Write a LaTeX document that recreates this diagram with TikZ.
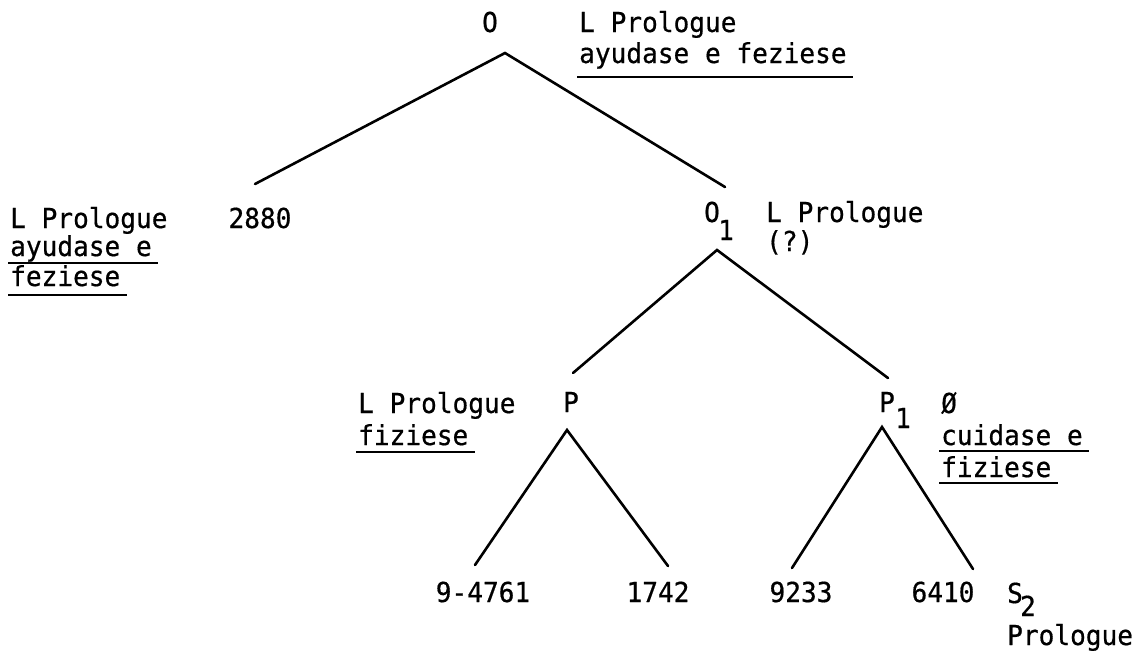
\documentclass[tikz,border=0pt]{standalone}
\usepackage{fontspec}
\newfontfamily\typewriter[FakeStretch=0.95,FakeBold=0.6]{DejaVu Sans Mono}
\usetikzlibrary{calc}
\begin{document}
\begin{tikzpicture}[x=1pt,y=-1pt,
  every node/.style={inner sep=0pt,font=\typewriter\fontsize{27.5}{31}\selectfont},
  lbl/.style={anchor=base west},
  sym/.style={anchor=base},
  branch/.style={line width=2.6pt,line cap=round},
  uline/.style={line width=2.2pt}]
\useasboundingbox (0,0) rectangle (1141,654);

% tree labels
\node[sym] (O)    at (490,32)  {O};
\node[sym] (n2880) at (260,228) {2880};
\node[sym] (O1)   at (712,222) {O};
\node[sym] (O1s)  at (726,240) {1};
\node[sym] (P)    at (571,412) {P};
\node[sym] (P1)   at (887,412) {P};
\node[sym] (P1s)  at (903,428) {1};
\node[sym] (n4761) at (483,602) {9-4761};
\node[sym] (n1742) at (658,602) {1742};
\node[sym] (n9233) at (801,602) {9233};
\node[sym] (n6410) at (943,602) {6410};
\node[sym] (S2)   at (1015,603) {S};
\node[sym] (S2s)  at (1028,616) {2};
\node[lbl] (S2t)  at (1007,645) {Prologue};

% annotations
\node[lbl] (tr1) at (579,32)  {L Prologue};
\node[lbl] (tr2) at (579,63)  {ayudase e feziese};
\node[lbl] (l1)  at (10,228)  {L Prologue};
\node[lbl] (l2)  at (10,256)  {ayudase e};
\node[lbl] (l3)  at (10,286)  {feziese};
\node[lbl] (or1) at (766,222) {L Prologue};
\node[lbl] (or2) at (766,251) {(?)};
\node[lbl] (pl1) at (358,413) {L Prologue};
\node[lbl] (pl2) at (358,445) {fiziese};
\node[lbl] (pr1) at (941,413) {Ø};
\node[lbl] (pr2) at (941,445) {cuidase e};
\node[lbl] (pr3) at (941,477) {fiziese};

% underlining
\foreach \n/\d in {tr2/14, l2/7, l3/9, pl2/7, pr2/6, pr3/6}
  \draw[uline] ($(\n.base west)+(-2,\d)$) -- ($(\n.base east)+(6,\d)$);

% branch points
\coordinate (O-fork)  at (505,53);
\coordinate (O-l)     at (255,184);
\coordinate (O-r)     at (725,187);
\coordinate (O1-fork) at (717,250);
\coordinate (O1-l)    at (573,373);
\coordinate (O1-r)    at (888,378);
\coordinate (P-fork)  at (567,430);
\coordinate (P-l)     at (475,565);
\coordinate (P-r)     at (668,566);
\coordinate (P1-fork) at (882,427);
\coordinate (P1-l)    at (792,568);
\coordinate (P1-r)    at (973,569);

% branches
\draw[branch] (O-l) -- (O-fork) -- (O-r);
\draw[branch] (O1-l) -- (O1-fork) -- (O1-r);
\draw[branch] (P-l) -- (P-fork) -- (P-r);
\draw[branch] (P1-l) -- (P1-fork) -- (P1-r);
\end{tikzpicture}
\end{document}
